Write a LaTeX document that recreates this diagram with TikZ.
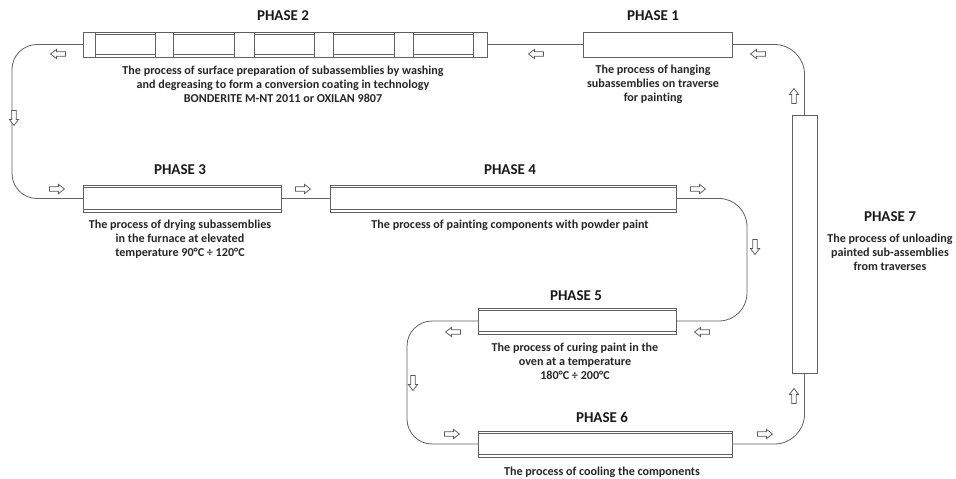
\documentclass[tikz,border=0pt]{standalone}
\usepackage{fontspec}
\setmainfont[Ligatures={NoCommon}]{Carlito}
\begin{document}
\begin{tikzpicture}[x=1pt,y=-1pt,
  line/.style={draw=black!62, line width=0.8pt},
  box/.style={line, fill=white, inner sep=0pt, outer sep=0pt},
  title/.style={font=\bfseries\fontsize{15}{18}\selectfont, text=black!90},
  desc/.style={font=\bfseries\fontsize{12.1}{13.8}\selectfont, align=center, text=black!85},
  harrow/.pic={\draw[draw=black!65, line width=0.75pt, fill=white, line join=miter]
     (-7.5,-2.3) -- (1.5,-2.3) -- (1.5,-4.6) -- (7.5,0) -- (1.5,4.6) -- (1.5,2.3) -- (-7.5,2.3) -- cycle;}
]
\useasboundingbox (0,0) rectangle (956,479);

% boxes
\node[box, minimum width=404pt, minimum height=25pt] (p2) at (285,44.5) {};
\node[box, minimum width=149pt, minimum height=25pt] (p1) at (657.5,44.5) {};
\node[box, minimum width=198pt, minimum height=27pt] (p3) at (182,198.5) {};
\node[box, minimum width=346pt, minimum height=27pt] (p4) at (503,198.5) {};
\node[box, minimum width=198pt, minimum height=26pt] (p5) at (577,321) {};
\node[box, minimum width=254pt, minimum height=26pt] (p6) at (605,444) {};
\node[box, minimum width=25pt, minimum height=258pt] (p7) at (804.5,244) {};

% double lines on furnace boxes
\foreach \b in {p3,p4,p5,p6}{
  \draw[line] ([yshift=-2.4pt]\b.north west) -- ([yshift=-2.4pt]\b.north east);
  \draw[line] ([yshift=2.4pt]\b.south west) -- ([yshift=2.4pt]\b.south east);
}

% phase 2 segments
\foreach \a/\b in {83/95,155/173,234/254,314/333,394/413,473/487}{
  \draw[line] (\a,32) rectangle (\b,57);
}
\foreach \a/\b in {95/155,173/234,254/314,333/394,413/473}{
  \draw[line] (\a,34.4) -- (\b,34.4);
  \draw[line] (\a,54.6) -- (\b,54.6);
}

% connectors
\draw[line] (p1.west) -- (p2.east);
\draw[line, rounded corners=25pt] (p2.west) -- (12,44.5) -- (12,198.5) -- (p3.west);
\draw[line] (p3.east) -- (p4.west);
\draw[line, rounded corners=28pt] (p4.east) -- (747,198.5) -- (747,321) -- (p5.east);
\draw[line, rounded corners=25pt] (p5.west) -- (407,321) -- (407,444) -- (p6.west);
\draw[line, rounded corners=30pt] (p6.east) -- (804.5,444) -- (p7.south);
\draw[line, rounded corners=30pt] (p7.north) -- (804.5,44.5) -- (p1.east);

% direction arrows
\pic[rotate=180] (a1) at (58,54) {harrow};
\pic[rotate=180] (a2) at (536,54) {harrow};
\pic[rotate=180] (a3) at (758,54) {harrow};
\pic[rotate=90] (a4) at (794,96) {harrow};
\pic[rotate=-90] (a5) at (14,118) {harrow};
\pic (a6) at (57,189) {harrow};
\pic (a7) at (303,189) {harrow};
\pic (a8) at (698,189) {harrow};
\pic[rotate=-90] (a9) at (755,247) {harrow};
\pic[rotate=180] (a10) at (702,332) {harrow};
\pic[rotate=180] (a11) at (453,332) {harrow};
\pic[rotate=-90] (a12) at (413,383) {harrow};
\pic (a13) at (452,434) {harrow};
\pic (a14) at (765,434) {harrow};
\pic[rotate=90] (a15) at (794,396) {harrow};

% titles
\node[title] (t2) at (283,16) {PHASE 2};
\node[title] (t1) at (653,16) {PHASE 1};
\node[title] (t3) at (180,170) {PHASE 3};
\node[title] (t4) at (510,170) {PHASE 4};
\node[title] (t5) at (576,296) {PHASE 5};
\node[title] (t6) at (602,417) {PHASE 6};
\node[title] (t7) at (890,217) {PHASE 7};

% descriptions
\node[desc] (d2) at (283,84) {The process of surface preparation of subassemblies by washing\\and degreasing to form a conversion coating in technology\\BONDERITE M-NT 2011 or OXILAN 9807};
\node[desc] (d1) at (653,84) {The process of hanging\\subassemblies on traverse\\for painting};
\node[desc] (d3) at (180,239) {The process of drying subassemblies\\in the furnace at elevated\\temperature 90°C ÷ 120°C};
\node[desc] (d4) at (510,225) {The process of painting components with powder paint};
\node[desc] (d5) at (575,361.5) {The process of curing paint in the\\oven at a temperature\\180°C ÷ 200°C};
\node[desc] (d6) at (602,472) {The process of cooling the components};
\node[desc] (d7) at (890,252) {The process of unloading\\painted sub-assemblies\\from traverses};
\end{tikzpicture}
\end{document}
